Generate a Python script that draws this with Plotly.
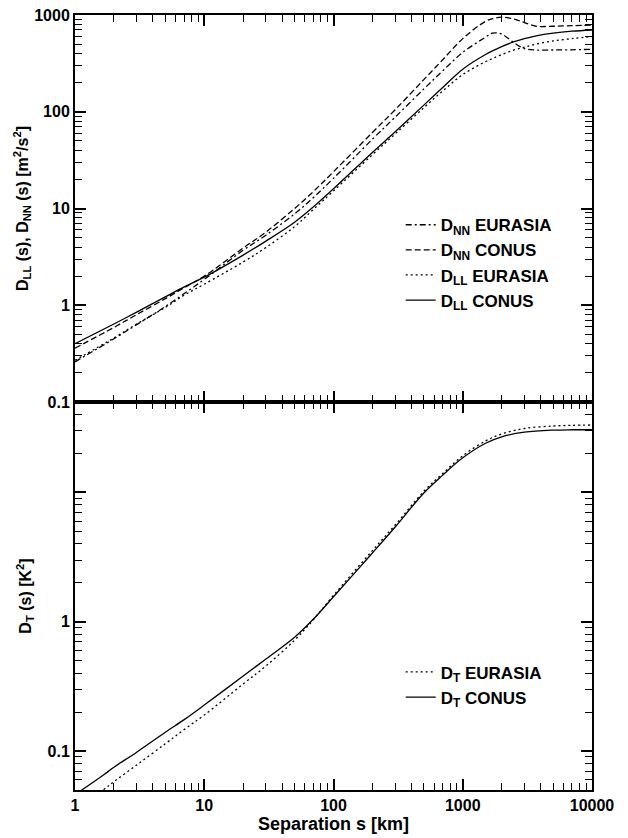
import math
import plotly.graph_objects as go

# ---------------- data ----------------
s_top = [1, 2, 3, 5, 7, 10, 20, 30, 50, 70, 100, 200, 300, 500, 700, 1000,
         1500, 1700, 2000, 2500, 3000, 3700, 5000, 7000, 10000]
dnn_eurasia = [0.26, 0.45, 0.63, 0.97, 1.32, 1.85, 3.7, 5.3, 8.8, 13, 20.5, 52, 88, 172, 265, 410,
               590, 650, 635, 515, 450, 435, 435, 437, 442]
dnn_conus = [0.36, 0.59, 0.80, 1.17, 1.52, 2.0, 3.9, 5.7, 10, 15, 24, 61, 105, 215, 345, 570,
             860, 915, 950, 905, 835, 765, 765, 775, 785]
dll_eurasia = [0.27, 0.46, 0.64, 0.95, 1.27, 1.65, 2.8, 3.95, 6.5, 9.8, 15.2, 36, 59, 110, 164, 242,
               330, 355, 390, 435, 465, 500, 540, 570, 600]
dll_conus = [0.40, 0.64, 0.85, 1.22, 1.55, 1.95, 3.3, 4.6, 7.2, 10.4, 16, 38, 62, 117, 178, 275,
             390, 425, 470, 530, 570, 610, 650, 680, 700]

s_bot = [1, 1.65, 2, 3, 5, 7, 10, 20, 30, 50, 70, 100, 200, 300, 500, 700, 1000,
         1500, 2000, 3000, 5000, 7000, 10000]
dt_eurasia = [0.035, 0.05, 0.058, 0.078, 0.114, 0.147, 0.19, 0.33, 0.455, 0.72, 1.04, 1.6, 3.55, 5.6,
              10.2, 14.0, 19.2, 25.0, 28.3, 31.2, 32.6, 33.0, 33.2]
dt_conus = [0.046, 0.065, 0.075, 0.098, 0.14, 0.175, 0.227, 0.38, 0.515, 0.76, 1.05, 1.56, 3.4, 5.4,
            9.9, 13.6, 18.5, 24.0, 26.9, 29.2, 30.3, 30.5, 30.5]

x_ticks = [1, 10, 100, 1000, 10000]
x_ticklabels = ["1", "10", "100", "1000", "10000"]
y_top_ticks = [0.1, 1, 10, 100, 1000]
y_top_labels = ["0.1", "1", "10", "100", "1000"]
y_bot_ticks = [0.1, 1, 10]
y_bot_labels = ["0.1", "1", ""]

# ---------------- figure ----------------
FONT = "Liberation Sans, Arial, Helvetica, sans-serif"
fig = go.Figure()

def add(x, y, name, dash, xa, ya, leg):
    fig.add_trace(go.Scatter(
        x=x, y=y, name=name, mode="lines",
        line=dict(color="black", width=1.3, dash=dash, shape="spline", smoothing=1.0),
        xaxis=xa, yaxis=ya, legend=leg))

add(s_top, dnn_eurasia, "D<sub>NN</sub> EURASIA", "6px,3px,2px,3px", "x", "y", "legend")
add(s_top, dnn_conus, "D<sub>NN</sub> CONUS", "6px,3px", "x", "y", "legend")
add(s_top, dll_eurasia, "D<sub>LL</sub> EURASIA", "2px,3px", "x", "y", "legend")
add(s_top, dll_conus, "D<sub>LL</sub> CONUS", "solid", "x", "y", "legend")
add(s_bot, dt_eurasia, "D<sub>T</sub> EURASIA", "2px,3px", "x2", "y2", "legend2")
add(s_bot, dt_conus, "D<sub>T</sub> CONUS", "solid", "x2", "y2", "legend2")

# invisible traces that only register the minor-tick overlay axes (no visible marks)
for xa, ya in [("x3", "y"), ("x", "y3"), ("x4", "y2"), ("x2", "y4")]:
    fig.add_trace(go.Scatter(x=[None], y=[None], xaxis=xa, yaxis=ya, showlegend=False,
                             hoverinfo="skip", mode="lines"))

def minor_exps(lo_exp, hi_exp, lo=None, hi=None):
    """log10 positions of the 2..9 minor ticks of each decade"""
    v = []
    for e in range(lo_exp, hi_exp):
        for m in range(2, 10):
            val = m * 10.0 ** e
            if (lo is None or val >= lo * 0.999) and (hi is None or val <= hi * 1.001):
                v.append(round(math.log10(val), 6))
    return v

tickfont = dict(family=FONT, size=16, color="black", weight="bold")
titlefont = dict(family=FONT, size=16, color="black", weight="bold")
axis_common = dict(
    type="log", showline=True, linecolor="black", linewidth=2, mirror="ticks",
    ticks="inside", ticklen=11, tickwidth=1.5, tickcolor="black",
    showgrid=False, zeroline=False, tickfont=tickfont, tickmode="array",
    automargin=False,
)
minor_common = dict(
    type="linear", showline=False, mirror="allticks",
    ticks="inside", ticklen=7, tickwidth=1.3, tickcolor="black",
    showgrid=False, zeroline=False, showticklabels=False, tickmode="array",
    automargin=False, fixedrange=True,
)

bot_frac = 388 / 775
y_bot_range = [math.log10(0.05), math.log10(50)]

fig.update_layout(
    width=628, height=838,
    margin=dict(l=75, r=36, t=15, b=48, autoexpand=False),
    paper_bgcolor="white", plot_bgcolor="white",
    font=dict(family=FONT, color="black"),
    xaxis=dict(axis_common, domain=[0, 1], anchor="y", range=[0, 4],
               tickvals=x_ticks, ticktext=x_ticklabels, showticklabels=False),
    xaxis2=dict(axis_common, domain=[0, 1], anchor="y2", range=[0, 4],
                tickvals=x_ticks, ticktext=x_ticklabels,
                title=dict(text="Separation s [km]", standoff=4,
                           font=dict(family=FONT, size=18, color="black", weight="bold"))),
    yaxis=dict(axis_common, domain=[bot_frac, 1], anchor="x", range=[-1, 3],
               tickvals=y_top_ticks, ticktext=y_top_labels,
               title=dict(text="D<sub>LL</sub> (s), D<sub>NN</sub> (s) [m<sup>2</sup>/s<sup>2</sup>]",
                          standoff=2, font=titlefont)),
    yaxis2=dict(axis_common, domain=[0, bot_frac], anchor="x2", range=y_bot_range,
                tickvals=y_bot_ticks, ticktext=y_bot_labels,
                title=dict(text="D<sub>T</sub> (s) [K<sup>2</sup>]", standoff=12,
                           font=titlefont)),
    # minor ticks: overlay axes on the same log10 scale (positions given as log10 values)
    xaxis3=dict(minor_common, overlaying="x", anchor="y", side="bottom", range=[0, 4],
                tickvals=minor_exps(0, 4)),
    xaxis4=dict(minor_common, overlaying="x2", anchor="y2", side="bottom", range=[0, 4],
                tickvals=minor_exps(0, 4)),
    yaxis3=dict(minor_common, overlaying="y", anchor="x", side="left", range=[-1, 3],
                tickvals=minor_exps(-1, 3)),
    yaxis4=dict(minor_common, overlaying="y2", anchor="x2", side="left", range=y_bot_range,
                tickvals=minor_exps(-2, 2, 0.05, 50)),
    legend=dict(x=0.63, y=0.752, xanchor="left", yanchor="top", bgcolor="rgba(0,0,0,0)",
                font=dict(family=FONT, size=17, color="black", weight="bold"),
                tracegroupgap=0),
    legend2=dict(x=0.63, y=0.175, xanchor="left", yanchor="top", bgcolor="rgba(0,0,0,0)",
                 font=dict(family=FONT, size=17, color="black", weight="bold"),
                 tracegroupgap=0),
    showlegend=True,
)

fig.write_html("out.html")
